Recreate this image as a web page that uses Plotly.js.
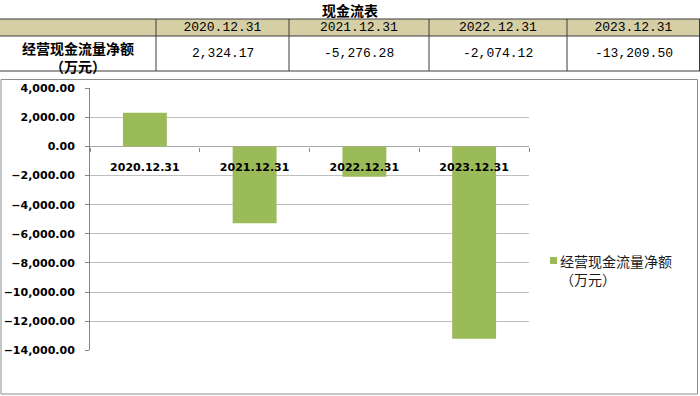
<!DOCTYPE html>
<html>
<head>
<meta charset="utf-8">
<script src="https://cdn.plot.ly/plotly-3.0.1.min.js"></script>
<style>html,body{margin:0;padding:0;background:#fff;}#chart{width:700px;height:396px;}</style>
</head>
<body>
<div id="chart"></div>
<script>
// ---- data ----
const tableTitle = '现金流表';
const categories = ['2020.12.31', '2021.12.31', '2022.12.31', '2023.12.31'];
const netCashFlow = [2324.17, -5276.28, -2074.12, -13209.50];
const seriesLine1 = '经营现金流量净额';
const seriesLine2 = '（万元）';
const yTicks = [4000, 2000, 0, -2000, -4000, -6000, -8000, -10000, -12000, -14000];

// ---- helpers ----
const W = 700, H = 396;
const px = x => x / W;
const py = y => 1 - y / H;
const fmt = v => v.toLocaleString('en-US', {minimumFractionDigits: 2, maximumFractionDigits: 2});

const plotTop = 88.3, plotBottom = 350.3, plotLeft = 90, plotRight = 529;
const yMin = -14000, yMax = 4000;
const yDom = [py(plotBottom), py(plotTop)];
const zeroPos = yDom[0] + (0 - yMin) / (yMax - yMin) * (yDom[1] - yDom[0]);

// table geometry (pixels)
const colEdges = [0, 156, 289, 429, 567, 700];
const rowTop = 19, rowMid = 36, rowBottom = 71;
const lineColor = '#3a3a3a';
const headerFill = '#D6CFA6';

// a solid tan swatch image for the header band
let headerImg = null;
try {
  const cv = document.createElement('canvas');
  cv.width = 4; cv.height = 4;
  const ctx = cv.getContext('2d');
  ctx.fillStyle = headerFill;
  ctx.fillRect(0, 0, 4, 4);
  headerImg = cv.toDataURL('image/png');
} catch (e) { headerImg = null; }

const shapes = [];
const annotations = [];

// header fill band
shapes.push({type: 'rect', xref: 'paper', yref: 'paper', layer: 'below',
  x0: 0, x1: 1, y0: py(rowMid), y1: py(rowTop),
  line: {width: 0}, fillcolor: headerFill});

const monoFont = {family: 'Liberation Mono, DejaVu Sans Mono, monospace', size: 13, color: '#000'};
// header cells
for (let c = 0; c < colEdges.length - 1; c++) {
  const x0 = colEdges[c], x1 = colEdges[c + 1];
  annotations.push({xref: 'paper', yref: 'paper', x: px((x0 + x1) / 2), y: py((rowTop + rowMid) / 2),
    xanchor: 'center', yanchor: 'middle', showarrow: false,
    width: x1 - x0 - 2, height: rowMid - rowTop - 2, borderpad: 0, borderwidth: 0,
    bgcolor: headerFill, align: 'center', valign: 'middle',
    text: c === 0 ? ' ' : categories[c - 1], font: monoFont});
}
// data cells
categories.forEach((c, i) => {
  const cx = (colEdges[i + 1] + colEdges[i + 2]) / 2;
  annotations.push({xref: 'paper', yref: 'paper', x: px(cx), y: py(53.5), xanchor: 'center', yanchor: 'middle',
    showarrow: false, text: fmt(netCashFlow[i]), font: monoFont});
});
const firstColX = (colEdges[0] + colEdges[1]) / 2;
annotations.push({xref: 'paper', yref: 'paper', x: px(firstColX), y: py(56.5), xanchor: 'center', yanchor: 'middle',
  showarrow: false, align: 'center', text: '<b>' + seriesLine1 + '</b><br><b>' + seriesLine2 + '</b>',
  font: {family: 'Noto Sans CJK SC', size: 14, color: '#000'}});

// horizontal lines
[rowTop, rowMid, rowBottom].forEach(y => shapes.push({type: 'line', xref: 'paper', yref: 'paper',
  x0: 0, x1: 1, y0: py(y), y1: py(y), line: {color: lineColor, width: 1}}));
// vertical lines
colEdges.slice(1, -1).forEach(x => shapes.push({type: 'line', xref: 'paper', yref: 'paper',
  x0: px(x), x1: px(x), y0: py(rowBottom), y1: py(rowTop), line: {color: lineColor, width: 1}}));
shapes.push({type: 'line', xref: 'paper', yref: 'paper', x0: px(699.5), x1: px(699.5), y0: py(rowBottom), y1: py(rowTop),
  line: {color: lineColor, width: 1}});

// chart frame
shapes.push({type: 'rect', xref: 'paper', yref: 'paper', x0: px(1), x1: px(697.5), y0: py(394), y1: py(79.5),
  line: {color: '#8C8C8C', width: 1}, fillcolor: 'rgba(0,0,0,0)', layer: 'below'});
// legend swatch + text
shapes.push({type: 'rect', xref: 'paper', yref: 'paper', x0: px(550), x1: px(557), y0: py(264), y1: py(257),
  line: {width: 0}, fillcolor: '#9BBB59'});
annotations.push({xref: 'paper', yref: 'paper', x: px(558), y: py(270), xanchor: 'left', yanchor: 'middle', align: 'left',
  showarrow: false, text: seriesLine1 + '<br>' + seriesLine2,
  font: {family: 'Noto Sans CJK SC', size: 14, color: '#1a1a1a'}});

const images = headerImg ? [{
  source: headerImg, xref: 'paper', yref: 'paper',
  x: 0, y: py(rowTop), sizex: 1, sizey: (rowMid - rowTop) / H,
  xanchor: 'left', yanchor: 'top', sizing: 'stretch', layer: 'below', opacity: 1
}] : [];

const barTrace = {
  type: 'bar',
  x: categories,
  y: netCashFlow,
  name: seriesLine1 + seriesLine2,
  marker: {color: '#9BBB59'},
  width: 0.4,
  showlegend: false,
  hoverinfo: 'x+y'
};

const layout = {
  width: W, height: H,
  margin: {l: 0, r: 0, t: 0, b: 0},
  paper_bgcolor: '#ffffff',
  plot_bgcolor: 'rgba(0,0,0,0)',
  title: {
    text: '<b>' + tableTitle + '</b>',
    x: 0.5, xanchor: 'center',
    y: py(11), yanchor: 'middle',
    font: {family: 'Noto Sans CJK SC', size: 14, color: '#000'}
  },
  xaxis: {
    type: 'category',
    domain: [px(plotLeft), px(plotRight)],
    range: [-0.5, 3.5],
    anchor: 'free',
    position: zeroPos,
    showline: false,
    showgrid: false,
    zeroline: false,
    ticks: 'outside',
    tickson: 'boundaries',
    ticklen: 4,
    tickcolor: '#868686',
    ticklabelstandoff: 12,
    tickfont: {family: 'DejaVu Sans', size: 11, color: '#000', weight: 'bold'},
    fixedrange: true
  },
  yaxis: {
    domain: yDom,
    range: [yMin, yMax],
    tickvals: yTicks,
    tickformat: ',.2f',
    showline: true,
    linecolor: '#868686',
    linewidth: 1,
    ticks: 'outside',
    ticklen: 4,
    tickcolor: '#868686',
    showgrid: true,
    gridcolor: '#BFBFBF',
    gridwidth: 1,
    zeroline: true,
    zerolinecolor: '#A6A6A6',
    zerolinewidth: 1,
    ticklabelstandoff: 8,
    tickfont: {family: 'DejaVu Sans', size: 11, color: '#000', weight: 'bold'},
    fixedrange: true
  },
  images: images,
  shapes: shapes,
  annotations: annotations,
  showlegend: false,
  bargap: 0.6
};

Plotly.newPlot('chart', [barTrace], layout, {staticPlot: true, displayModeBar: false});
</script>
</body>
</html>
